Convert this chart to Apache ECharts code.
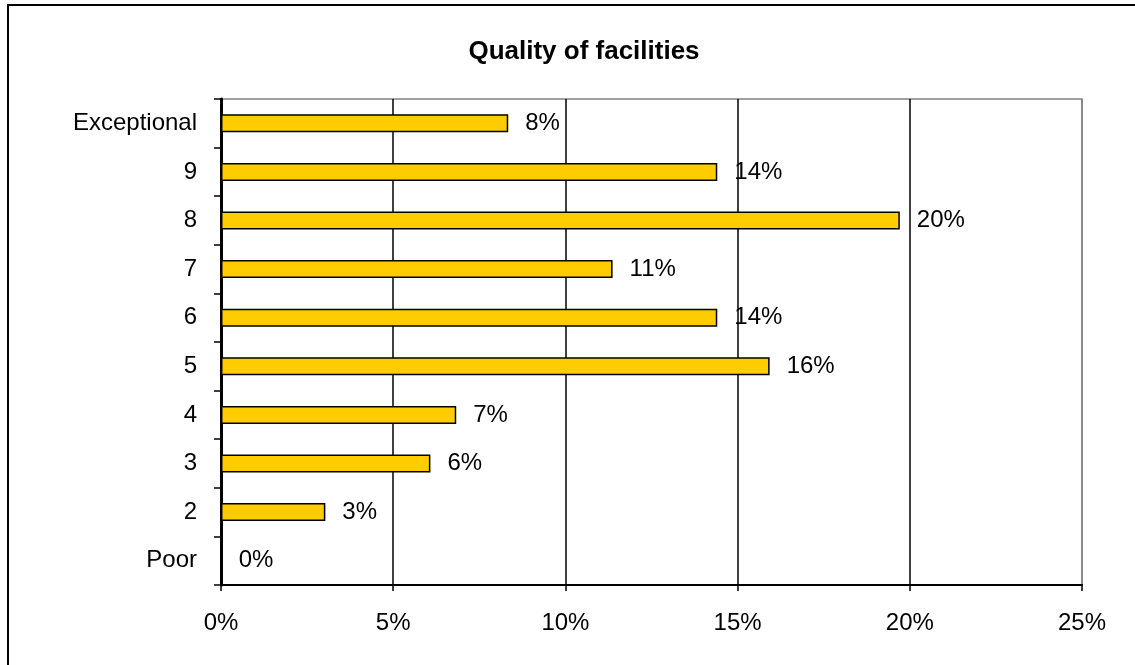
<!DOCTYPE html>
<html>
<head>
<meta charset="utf-8">
<script src="https://cdn.jsdelivr.net/npm/echarts@6/dist/echarts.min.js"></script>
<style>
  html, body { margin: 0; padding: 0; background: #fff; }
  #chart { width: 1135px; height: 665px; }
</style>
</head>
<body>
<div id="chart"></div>
<script>
// ratings, bottom to top
var categories = ["Poor", "2", "3", "4", "5", "6", "7", "8", "9", "Exceptional"];
var shares = [0, 3.03, 6.08, 6.83, 15.93, 14.41, 11.37, 19.71, 14.41, 8.34];
var xTicks = [0, 5, 10, 15, 20, 25];

var chart = echarts.init(document.getElementById("chart"));
var font = "'Liberation Sans', Arial, sans-serif";

chart.setOption({
  animation: false,
  backgroundColor: "#fff",
  textStyle: { fontFamily: font },
  graphic: [
    {
      type: "rect",
      shape: { x: 8, y: 5, width: 1140, height: 670 },
      style: { fill: "none", stroke: "#000", lineWidth: 2 },
      silent: true
    }
  ],
  title: {
    text: "Quality of facilities",
    left: 579,
    top: 34,
    textAlign: "center",
    textStyle: { fontSize: 26, fontWeight: "bold", color: "#000", fontFamily: font }
  },
  grid: {
    left: 221,
    right: 53,
    top: 99,
    bottom: 80,
    show: true,
    borderColor: "#808080",
    borderWidth: 1.5,
    containLabel: false
  },
  xAxis: {
    type: "value",
    min: xTicks[0],
    max: xTicks[xTicks.length - 1],
    interval: 5,
    axisLine: { show: true, lineStyle: { color: "#000", width: 2 } },
    axisTick: { show: true, length: 6, lineStyle: { color: "#000", width: 1.5 } },
    axisLabel: {
      color: "#000",
      fontSize: 24,
      margin: 26,
      formatter: function (v) { return v + "%"; }
    },
    splitLine: {
      show: true,
      lineStyle: { color: ["#000", "#000", "#000", "#000", "#000", "#808080"], width: 1.5 }
    }
  },
  yAxis: {
    type: "category",
    data: categories,
    axisLine: { show: true, lineStyle: { color: "#000", width: 3 } },
    axisTick: { show: true, length: 7, inside: false, lineStyle: { color: "#000", width: 1.5 } },
    axisLabel: { color: "#000", fontSize: 24, margin: 24 },
    splitLine: { show: false }
  },
  series: [
    {
      type: "bar",
      data: shares,
      barWidth: 18,
      itemStyle: { color: "#FFCC00", borderColor: "#000", borderWidth: 1.5 },
      label: {
        show: true,
        position: "right",
        distance: 17,
        color: "#000",
        fontSize: 24,
        fontFamily: font,
        formatter: function (p) { return Math.round(p.value) + "%"; }
      }
    }
  ]
});
</script>
</body>
</html>
